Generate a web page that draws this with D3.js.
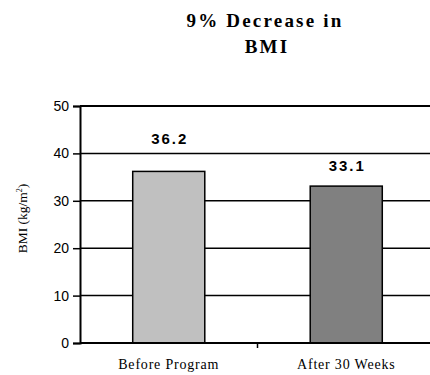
<!DOCTYPE html>
<html>
<head>
<meta charset="utf-8">
<script src="https://cdn.jsdelivr.net/npm/d3@7"></script>
<style>
  body { margin: 0; background: #fff; }
</style>
</head>
<body>
<div id="chart"></div>
<script>
const categories = ["Before Program", "After 30 Weeks"];
const values = [36.2, 33.1];
const barColors = ["#c0c0c0", "#808080"];
const yTicks = [0, 10, 20, 30, 40, 50];

const width = 430, height = 375;
const margin = ({top: 106, right: -5, bottom: 32, left: 80});
const serif = "'Liberation Serif', 'Times New Roman', serif";
const sans = "'Liberation Sans', Arial, sans-serif";

const x = d3.scaleBand()
    .domain(categories)
    .range([margin.left, width - margin.right])
    .paddingInner(0.594)
    .paddingOuter(0.297);

const y = d3.scaleLinear()
    .domain([0, 50])
    .range([height - margin.bottom, margin.top]);

const svg = d3.select("#chart").append("svg")
    .attr("width", width).attr("height", height);

// title
const title = svg.append("text")
    .attr("text-anchor", "middle")
    .attr("font-family", serif)
    .attr("font-weight", "bold")
    .attr("font-size", 19)
    .attr("letter-spacing", 2.2);
title.append("tspan").attr("x", 265).attr("y", 27).text("9% Decrease in");
title.append("tspan").attr("x", 267).attr("y", 53).text("BMI");

// gridlines
svg.append("g")
  .selectAll("line")
  .data(yTicks)
  .enter().append("line")
    .attr("x1", margin.left).attr("x2", width)
    .attr("y1", d => y(d)).attr("y2", d => y(d))
    .attr("stroke", "#000")
    .attr("stroke-width", d => d === 50 ? 2 : 1.5);

// bars
svg.append("g")
  .selectAll("rect")
  .data(values)
  .enter().append("rect")
    .attr("x", (d, i) => x(categories[i]))
    .attr("width", x.bandwidth())
    .attr("y", d => y(d))
    .attr("height", d => y(0) - y(d))
    .attr("fill", (d, i) => barColors[i])
    .attr("stroke", "#000")
    .attr("stroke-width", 1.5);

// value labels, pushed above a gridline if they would sit on it
function labelY(d) {
  let base = y(d) - 15;
  yTicks.forEach(t => {
    const gy = y(t);
    if (gy > base - 13 && gy < base + 2) base = gy - 9;
  });
  return base;
}
svg.append("g")
  .selectAll("text")
  .data(values)
  .enter().append("text")
    .attr("x", (d, i) => x(categories[i]) + x.bandwidth() / 2 + 1)
    .attr("y", labelY)
    .attr("text-anchor", "middle")
    .attr("font-family", sans)
    .attr("font-weight", "bold")
    .attr("font-size", 15)
    .attr("letter-spacing", 2)
    .text(d => d.toFixed(1));

// y axis
const yAxis = d3.axisLeft(y).tickValues(yTicks).tickSize(7).tickPadding(4);
const gy = svg.append("g")
    .attr("transform", `translate(${margin.left},0)`)
    .call(yAxis);
gy.select(".domain").attr("stroke-width", 2);
gy.selectAll(".tick line").attr("stroke-width", 1.5);
gy.selectAll(".tick text")
    .attr("font-family", sans)
    .attr("font-size", 14)
    .attr("fill", "#000");

// x axis
const gx = svg.append("g")
    .attr("transform", `translate(0,${y(0)})`);
gx.append("line")
    .attr("x1", margin.left).attr("x2", width)
    .attr("stroke", "#000").attr("stroke-width", 2);
const mid = (x(categories[0]) + x(categories[1]) + x.bandwidth()) / 2;
gx.append("line")
    .attr("x1", mid).attr("x2", mid)
    .attr("y1", 0).attr("y2", 5)
    .attr("stroke", "#000").attr("stroke-width", 1.5);
gx.selectAll("text.cat")
  .data(categories)
  .enter().append("text")
    .attr("class", "cat")
    .attr("x", d => x(d) + x.bandwidth() / 2)
    .attr("y", 26)
    .attr("text-anchor", "middle")
    .attr("font-family", serif)
    .attr("font-size", 14)
    .attr("letter-spacing", 0.8)
    .text(d => d);

// y axis label
const ylab = svg.append("text")
    .attr("transform", `translate(27,${(y(0) + y(50)) / 2 - 6}) rotate(-90)`)
    .attr("text-anchor", "middle")
    .attr("font-family", serif)
    .attr("font-size", 13.5);
ylab.append("tspan").text("BMI (kg/m");
ylab.append("tspan").attr("font-size", 8).attr("dy", -5).text("2");
ylab.append("tspan").attr("dy", 5).text(")");
</script>
</body>
</html>
